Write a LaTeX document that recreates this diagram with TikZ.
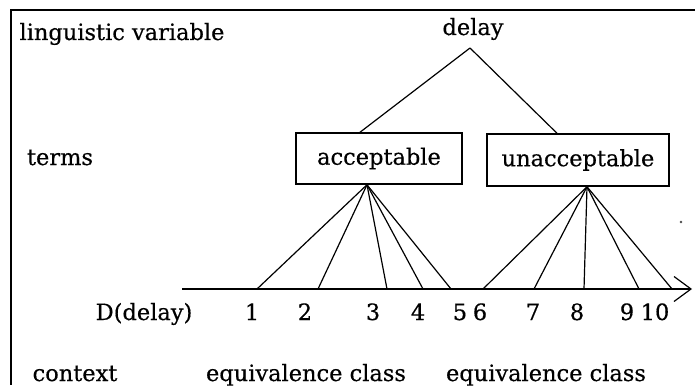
\documentclass[tikz,border=0pt]{standalone}
\usepackage{fontspec}
\setmainfont[FakeBold=0.4]{DejaVu Serif}
\usetikzlibrary{arrows.meta}
\tikzset{
  lbl/.style={anchor=base, inner sep=0pt, font=\fontsize{22.5}{26}\selectfont},
  termbox/.style={draw, line width=1.5pt, inner sep=0pt,
    font=\fontsize{22.5}{26}\selectfont},
  link/.style={line width=1.2pt},
  frameline/.style={line width=1.4pt},
}
\begin{document}
\begin{tikzpicture}[x=1pt, y=-1pt]
  \fill[white] (0,0) rectangle (695,385);
  \useasboundingbox (0,0) rectangle (695,385);
  % outer frame: top and left edges only
  \coordinate (fr1) at (695,10);
  \coordinate (fr2) at (11,10);
  \coordinate (fr3) at (11,385);
  \draw[frameline] (fr1) -- (fr2) -- (fr3);

  % row captions
  \node[lbl] (lv)   at (122,40)  {linguistic variable};
  \node[lbl] (tm)   at (60,165)  {terms};
  \node[lbl] (dom)  at (144,320) {D(delay)};
  \node[lbl] (ctx)  at (75,381)  {context};

  % linguistic variable and its terms
  \node[lbl] (var) at (473,35) {delay};
  \coordinate (top) at (470,48);
  \node[termbox, minimum width=166pt, minimum height=51pt] (acc)   at (379,158.5) {acceptable};
  \node[termbox, minimum width=182pt, minimum height=52pt] (unacc) at (578,160)   {unacceptable};
  \draw[link] (top) -- ([xshift=-19pt]acc.north);
  \draw[link] (top) -- ([xshift=-21pt]unacc.north);

  % domain axis
  \coordinate (ax0) at (182,289);
  \coordinate (ax1) at (692,289);
  \draw[line width=1.5pt, -{Straight Barb[length=17pt, width=25pt, line width=1.2pt]}] (ax0) -- (ax1);

  % points of the domain and their numbers
  \foreach \i/\px/\lx in {1/257/252, 2/318/305, 3/387/373, 4/423/418, 5/451/460,
                          6/483/480, 7/534/533, 8/584/577, 9/639/627, 10/672/655} {
    \coordinate (p\i) at (\px,289);
    \node[lbl] (n\i) at (\lx,320) {\i};
  }

  % mapping of the terms onto the domain
  \coordinate (accfoot)   at ([xshift=-12pt]acc.south);
  \coordinate (unaccfoot) at ([xshift=9pt]unacc.south);
  \foreach \i in {1,...,5}  { \draw[link] (accfoot) -- (p\i); }
  \foreach \i in {6,...,10} { \draw[link] (unaccfoot) -- (p\i); }

  % equivalence classes
  \node[lbl] (eq1) at (306,381) {equivalence class};
  \node[lbl] (eq2) at (546,381) {equivalence class};

  % stray mark at the right
  \fill[black!70] (681,222) circle (1.3pt);
\end{tikzpicture}
\end{document}
